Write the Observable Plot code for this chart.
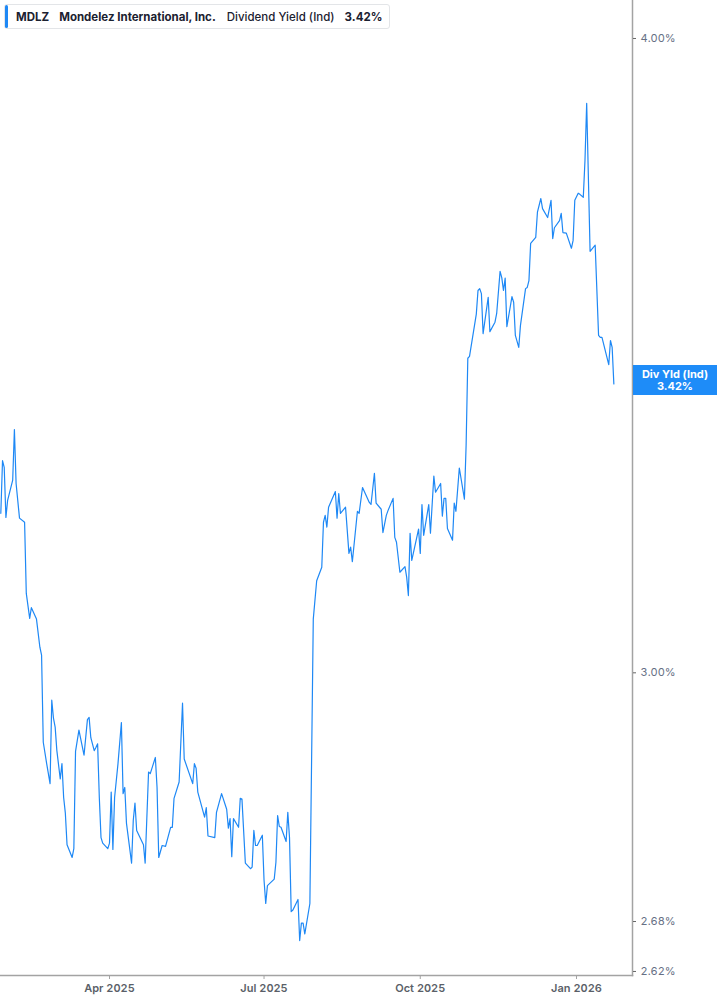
<!DOCTYPE html>
<html>
<head>
<meta charset="utf-8">
<script src="https://cdn.jsdelivr.net/npm/d3@7"></script>
<script src="https://cdn.jsdelivr.net/npm/@observablehq/plot@0.6"></script>
<style>
  html, body { margin: 0; padding: 0; background: #fff; }
  body { font-family: Inter, "Noto Sans", sans-serif; }
  #wrap { position: relative; width: 717px; height: 1005px; overflow: hidden; }
  #legend {
    position: absolute; left: 4px; top: 4px; height: 25px; width: 386px;
    box-sizing: border-box; border: 1px solid #e3e5e8; border-radius: 3px; background: #fff;
    display: flex; align-items: center; font-size: 11.5px; color: #1b2130; white-space: nowrap;
  }
  #legend .bar { width: 3px; height: 23px; background: #1e88f5; border-radius: 2px; margin-right: 8px; }
  #legend span { display: inline-block; }
  #tag {
    position: absolute; left: 633px; width: 84px; height: 30px; background: #1e8cf8; color: #fff;
    font-size: 11px; font-weight: 700; text-align: center; line-height: 12px; box-sizing: border-box; padding-top: 3px;
  }
</style>
</head>
<body>
<div id="wrap"></div>
<script>
const symbol = "MDLZ";
const company = "Mondelez International, Inc.";
const seriesName = "Dividend Yield (Ind)";
const lastLabel = "3.42%";
const tagLabel = "Div Yld (Ind)";

const dates = [
"2025-01-27","2025-01-28","2025-01-29","2025-01-30","2025-01-31","2025-02-03","2025-02-04","2025-02-05","2025-02-07","2025-02-10",
"2025-02-11","2025-02-13","2025-02-14","2025-02-17","2025-02-19","2025-02-20","2025-02-21","2025-02-23","2025-02-25","2025-02-26",
"2025-02-27","2025-02-28","2025-03-01","2025-03-03","2025-03-04","2025-03-05","2025-03-06","2025-03-07","2025-03-10","2025-03-11",
"2025-03-12","2025-03-14","2025-03-17","2025-03-19","2025-03-20","2025-03-21","2025-03-23","2025-03-24","2025-03-25","2025-03-26",
"2025-03-27","2025-03-28","2025-03-31","2025-04-01","2025-04-02","2025-04-03","2025-04-04","2025-04-06","2025-04-08","2025-04-09",
"2025-04-10","2025-04-11","2025-04-14","2025-04-15","2025-04-16","2025-04-17","2025-04-21","2025-04-22","2025-04-24","2025-04-25",
"2025-04-28","2025-04-29","2025-04-30","2025-05-02","2025-05-04","2025-05-07","2025-05-08","2025-05-09","2025-05-12","2025-05-14",
"2025-05-15","2025-05-20","2025-05-21","2025-05-22","2025-05-23","2025-05-27","2025-05-28","2025-05-29","2025-06-02","2025-06-03",
"2025-06-06","2025-06-09","2025-06-10","2025-06-11","2025-06-12","2025-06-13","2025-06-16","2025-06-17","2025-06-18","2025-06-20",
"2025-06-23","2025-06-24","2025-06-25","2025-06-26","2025-06-27","2025-06-30","2025-07-01","2025-07-02","2025-07-03","2025-07-07",
"2025-07-08","2025-07-09","2025-07-10","2025-07-11","2025-07-14","2025-07-15","2025-07-16","2025-07-17","2025-07-18","2025-07-21",
"2025-07-22","2025-07-23","2025-07-24","2025-07-25","2025-07-28","2025-07-30","2025-08-01","2025-08-04","2025-08-05","2025-08-06",
"2025-08-07","2025-08-08","2025-08-12","2025-08-13","2025-08-14","2025-08-15","2025-08-18","2025-08-20","2025-08-21","2025-08-22",
"2025-08-25","2025-08-26","2025-08-28","2025-09-01","2025-09-02","2025-09-04","2025-09-05","2025-09-08","2025-09-09","2025-09-11",
"2025-09-12","2025-09-15","2025-09-16","2025-09-17","2025-09-19","2025-09-22","2025-09-23","2025-09-24","2025-09-25","2025-09-26",
"2025-09-30","2025-10-01","2025-10-02","2025-10-03","2025-10-06","2025-10-07","2025-10-09","2025-10-10","2025-10-13","2025-10-14",
"2025-10-15","2025-10-16","2025-10-17","2025-10-20","2025-10-21","2025-10-22","2025-10-24","2025-10-27","2025-10-28","2025-10-29",
"2025-10-30","2025-11-03","2025-11-04","2025-11-05","2025-11-06","2025-11-07","2025-11-10","2025-11-11","2025-11-14","2025-11-15",
"2025-11-17","2025-11-18","2025-11-19","2025-11-20","2025-11-21","2025-11-24","2025-11-25","2025-11-26","2025-11-28","2025-11-29",
"2025-12-02","2025-12-03","2025-12-04","2025-12-05","2025-12-08","2025-12-09","2025-12-11","2025-12-12","2025-12-15","2025-12-17",
"2025-12-18","2025-12-19","2025-12-22","2025-12-23","2025-12-24","2025-12-26","2025-12-29","2025-12-30","2025-12-31","2026-01-02",
"2026-01-03","2026-01-05","2026-01-06","2026-01-07","2026-01-09","2026-01-12","2026-01-14","2026-01-15","2026-01-16","2026-01-20",
"2026-01-21","2026-01-22","2026-01-23"
];

const yields = [
3.225,3.303,3.293,3.219,3.244,3.274,3.350,3.269,3.218,3.212,
3.110,3.075,3.090,3.074,3.035,3.024,2.907,2.879,2.853,2.963,
2.939,2.927,2.896,2.859,2.879,2.835,2.815,2.775,2.759,2.770,
2.895,2.923,2.890,2.937,2.940,2.913,2.896,2.900,2.905,2.835,
2.784,2.777,2.770,2.777,2.842,2.769,2.835,2.879,2.933,2.840,
2.848,2.802,2.752,2.806,2.828,2.793,2.775,2.752,2.868,2.866,
2.887,2.848,2.759,2.774,2.773,2.797,2.797,2.834,2.855,2.959,
2.885,2.853,2.879,2.873,2.842,2.810,2.822,2.786,2.784,2.816,
2.840,2.820,2.796,2.808,2.760,2.808,2.797,2.834,2.833,2.752,
2.745,2.747,2.793,2.774,2.774,2.787,2.731,2.702,2.724,2.732,
2.753,2.812,2.798,2.797,2.779,2.816,2.784,2.692,2.694,2.707,
2.657,2.678,2.678,2.665,2.702,3.074,3.128,3.147,3.212,3.222,
3.205,3.234,3.257,3.218,3.254,3.225,3.234,3.167,3.176,3.155,
3.228,3.225,3.263,3.241,3.238,3.284,3.240,3.231,3.197,3.222,
3.229,3.247,3.190,3.183,3.140,3.148,3.133,3.107,3.196,3.157,
3.202,3.167,3.238,3.193,3.238,3.196,3.280,3.256,3.269,3.221,
3.247,3.247,3.203,3.186,3.240,3.228,3.292,3.246,3.326,3.460,
3.463,3.530,3.568,3.571,3.563,3.499,3.557,3.502,3.517,3.531,
3.599,3.589,3.568,3.588,3.510,3.558,3.549,3.496,3.477,3.512,
3.571,3.573,3.584,3.645,3.655,3.697,3.720,3.703,3.688,3.717,
3.653,3.671,3.683,3.695,3.663,3.662,3.637,3.650,3.717,3.729,
3.727,3.722,3.785,3.884,3.632,3.642,3.496,3.493,3.493,3.450,
3.488,3.477,3.420
];

const xTickDates = ["2025-04-01","2025-07-01","2025-10-01","2026-01-01"];
const xTickLabels = ["Apr 2025","Jul 2025","Oct 2025","Jan 2026"];
const yTicks = [2.62, 2.68, 3.00, 4.00];
const xDomain = ["2025-01-26T19:30:00Z","2026-02-02T23:30:00Z"];
const yDomain = [2.6152, 4.0695];

const data = dates.map((d, i) => ({date: new Date(d + "T00:00:00Z"), value: yields[i]}));
const xTicks = xTickDates.map(d => new Date(d + "T00:00:00Z"));
const labelOf = new Map(xTicks.map((d, i) => [+d, xTickLabels[i]]));

const lineColor = "#1e88f5";
const axisColor = "#a3a3a3";

const chart = Plot.plot({
  width: 717,
  height: 1005,
  marginLeft: 0,
  marginRight: 85,
  marginTop: 0,
  marginBottom: 30,
  style: {fontFamily: "Inter, 'Noto Sans', sans-serif", background: "#fff", overflow: "visible"},
  x: {type: "utc", domain: xDomain.map(d => new Date(d))},
  y: {type: "log", domain: yDomain},
  marks: [
    Plot.frame({anchor: "bottom", stroke: axisColor, strokeWidth: 1.5}),
    Plot.frame({anchor: "right", stroke: axisColor, strokeWidth: 1.5}),
    Plot.lineY(data, {x: "date", y: "value", stroke: lineColor, strokeWidth: 1.2, clip: true}),
    Plot.axisX({
      ticks: xTicks, tickSize: 4, tickPadding: 5, stroke: axisColor, label: null,
      tickFormat: d => labelOf.get(+d), fontSize: 11, fontWeight: 600, fill: "#5a5f68"
    }),
    Plot.axisY({
      anchor: "right", ticks: yTicks, tickSize: 3, tickPadding: 5, stroke: "#666", label: null,
      tickFormat: d => d.toFixed(2) + "%", fontSize: 11, fill: "#667085"
    })
  ]
});

const wrap = document.getElementById("wrap");
wrap.appendChild(chart);

const legend = document.createElement("div");
legend.id = "legend";
legend.innerHTML =
  `<div class="bar"></div>` +
  `<span style="font-weight:700;margin-right:10px">${symbol}</span>` +
  `<span style="font-weight:700;margin-right:11px">${company}</span>` +
  `<span style="font-weight:500;margin-right:10px">${seriesName}</span>` +
  `<span style="font-weight:700">${lastLabel}</span>`;
wrap.appendChild(legend);

const yPix = chart.scale("y").apply(yields[yields.length - 1]);
const tag = document.createElement("div");
tag.id = "tag";
tag.style.top = (yPix - 18) + "px";
tag.innerHTML = `${tagLabel}<br>${lastLabel}`;
wrap.appendChild(tag);
</script>
</body>
</html>
